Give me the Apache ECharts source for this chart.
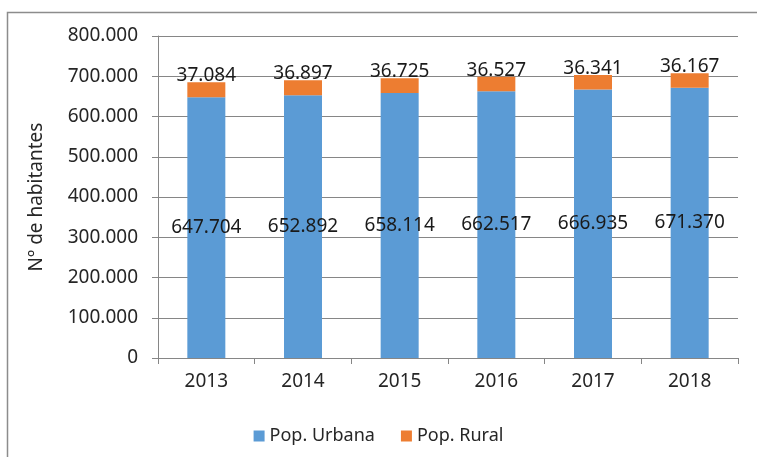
<!DOCTYPE html>
<html>
<head>
<meta charset="utf-8">
<script src="https://cdn.jsdelivr.net/npm/echarts@6/dist/echarts.min.js"></script>
<style>
html, body { margin: 0; padding: 0; background: #fff; }
#chart { width: 757px; height: 457px; }
</style>
</head>
<body>
<div id="chart"></div>
<script>
// datos
const years = ['2013', '2014', '2015', '2016', '2017', '2018'];
const urbana = [647704, 652892, 658114, 662517, 666935, 671370];
const rural = [37084, 36897, 36725, 36527, 36341, 36167];

// separador de miles con punto
function fmt(v) {
    return String(Math.round(v)).replace(/\B(?=(\d{3})+(?!\d))/g, '.');
}

const font = 'Noto Sans';
let myChart = echarts.init(document.getElementById('chart'));

myChart.setOption({
    backgroundColor: '#fff',
    animation: false,
    textStyle: { fontFamily: font },
    graphic: [{
        type: 'rect',
        shape: { x: 7.5, y: 12.5, width: 800, height: 500 },
        style: { fill: 'none', stroke: '#8c8c8c', lineWidth: 1.5 },
        silent: true
    }],
    grid: { left: 158, right: 19, top: 36, bottom: 99 },
    legend: {
        bottom: 7,
        left: 'center',
        itemWidth: 11,
        itemHeight: 11,
        itemGap: 26,
        icon: 'rect',
        textStyle: { fontFamily: font, fontSize: 18, color: '#262626' },
        data: ['Pop. Urbana', 'Pop. Rural']
    },
    xAxis: {
        type: 'category',
        data: years,
        axisLine: { lineStyle: { color: '#868686' } },
        axisTick: { show: true, length: 6, lineStyle: { color: '#868686' } },
        axisLabel: { fontFamily: font, fontSize: 19, color: '#262626', margin: 14 }
    },
    yAxis: {
        type: 'value',
        min: 0,
        max: 800000,
        interval: 100000,
        name: 'Nº de habitantes',
        nameLocation: 'middle',
        nameRotate: 90,
        nameGap: 112,
        nameTextStyle: { fontFamily: font, fontSize: 19, color: '#262626' },
        axisLine: { show: true, lineStyle: { color: '#868686' } },
        axisTick: { show: true, length: 6, lineStyle: { color: '#868686' } },
        splitLine: { lineStyle: { color: '#868686' } },
        axisLabel: {
            fontFamily: font, fontSize: 19, color: '#262626', margin: 20,
            formatter: v => fmt(v)
        }
    },
    series: [
        {
            name: 'Pop. Urbana',
            type: 'bar',
            stack: 'pop',
            barWidth: 38,
            itemStyle: { color: '#5B9BD5' },
            label: {
                show: true,
                position: 'inside',
                fontFamily: font,
                fontSize: 19,
                color: '#1a1a1a',
                formatter: p => fmt(p.value)
            },
            data: urbana
        },
        {
            name: 'Pop. Rural',
            type: 'bar',
            stack: 'pop',
            barWidth: 38,
            itemStyle: { color: '#ED7D31' },
            label: {
                show: true,
                position: 'top',
                distance: -3,
                fontFamily: font,
                fontSize: 19,
                color: '#1a1a1a',
                formatter: p => fmt(p.value)
            },
            data: rural
        }
    ]
});
</script>
</body>
</html>
